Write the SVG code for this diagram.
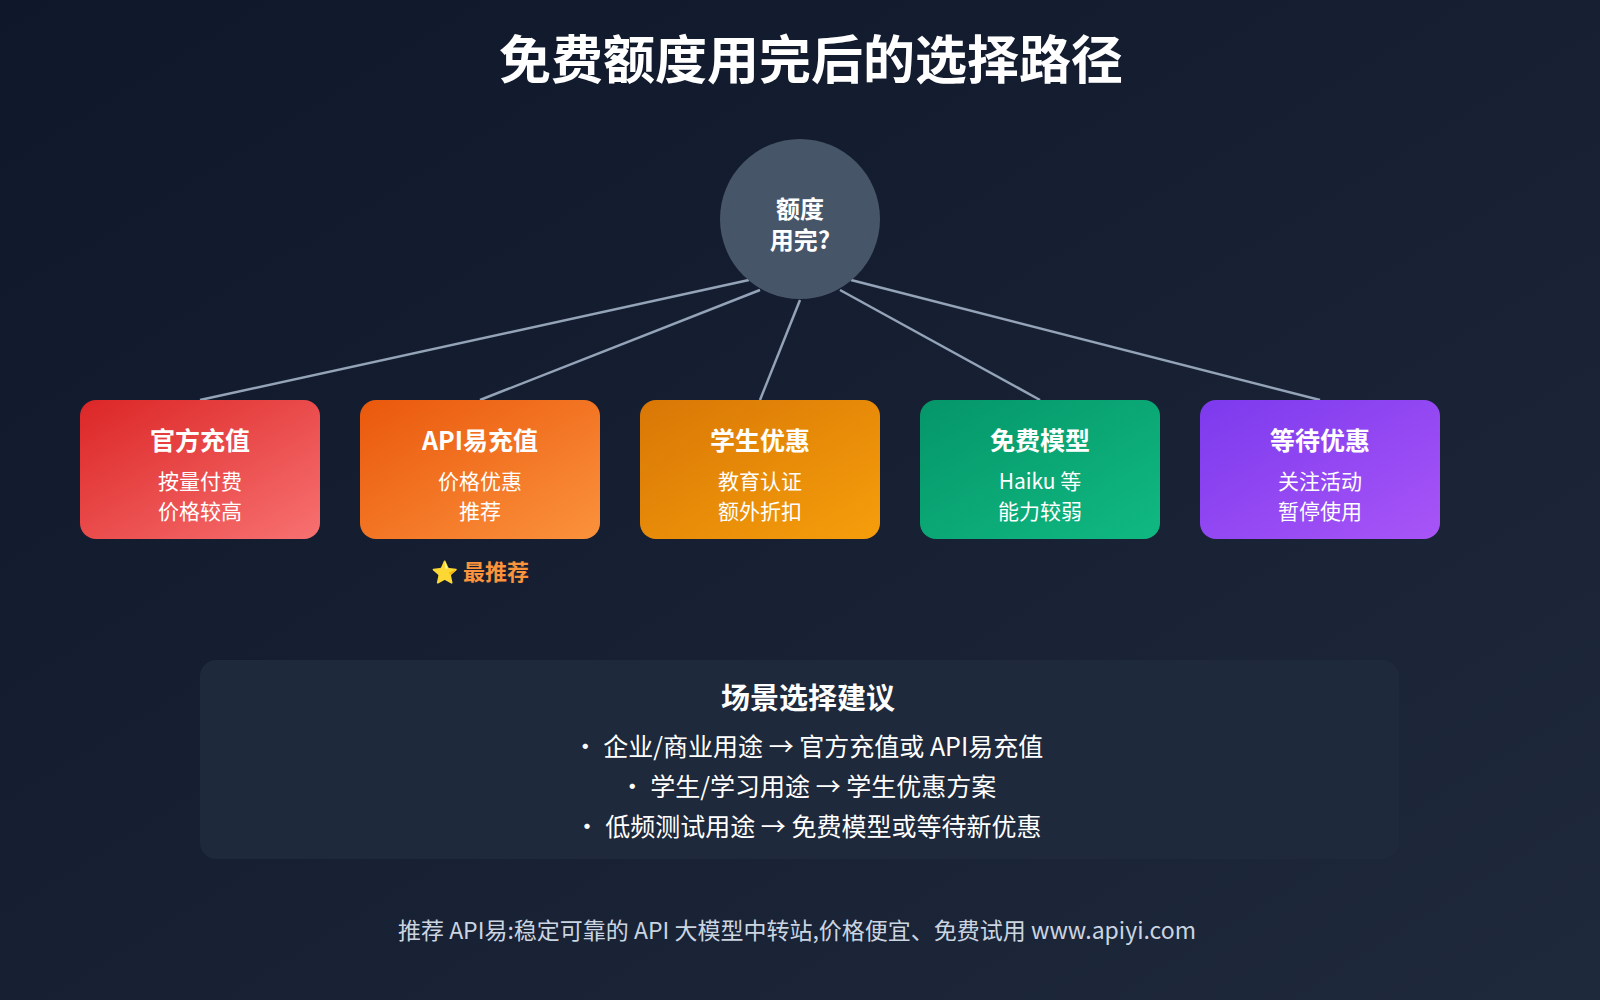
<svg xmlns="http://www.w3.org/2000/svg" width="1600" height="1000" viewBox="0 0 1600 1000">
<defs>
<linearGradient id="bg" x1="0" y1="0" x2="1" y2="1"><stop offset="0" stop-color="#0f172a"/><stop offset="1" stop-color="#1e293b"/></linearGradient>
<linearGradient id="g1" x1="0" y1="0" x2="1" y2="1"><stop offset="0" stop-color="#dc2626"/><stop offset="1" stop-color="#f87171"/></linearGradient>
<linearGradient id="g2" x1="0" y1="0" x2="1" y2="1"><stop offset="0" stop-color="#ea580c"/><stop offset="1" stop-color="#fb923c"/></linearGradient>
<linearGradient id="g3" x1="0" y1="0" x2="1" y2="1"><stop offset="0" stop-color="#d97706"/><stop offset="1" stop-color="#f59e0b"/></linearGradient>
<linearGradient id="g4" x1="0" y1="0" x2="1" y2="1"><stop offset="0" stop-color="#059669"/><stop offset="1" stop-color="#10b981"/></linearGradient>
<linearGradient id="g5" x1="0" y1="0" x2="1" y2="1"><stop offset="0" stop-color="#7c3aed"/><stop offset="1" stop-color="#a855f7"/></linearGradient>
</defs>
<style>
text{font-family:"Noto Sans CJK SC","Liberation Sans",sans-serif;text-anchor:middle;fill:#fff}
.t{font-size:25px;font-weight:700}
.ct{font-size:24px;font-weight:700}
.s{font-size:21px}
.b{font-size:25px}
.c{stroke:#94a3b8;stroke-width:2.5;fill:none}
</style>
<rect width="1600" height="1000" fill="url(#bg)"/>
<text x="811" y="79" style="font-size:52px;font-weight:700">免费额度用完后的选择路径</text>
<g id="connectors">
<line class="c" x1="749" y1="280" x2="200" y2="400"/>
<line class="c" x1="760" y1="290" x2="480" y2="400"/>
<line class="c" x1="800" y1="300" x2="760" y2="400"/>
<line class="c" x1="840" y1="290" x2="1040" y2="400"/>
<line class="c" x1="851" y1="280" x2="1320" y2="400"/>
</g>
<g id="center"><circle cx="800" cy="219" r="80" fill="#475569"/>
<text class="ct" x="800" y="218">额度</text><text class="ct" x="800" y="249">用完?</text></g>
<g id="n1"><rect x="80" y="400" width="240" height="139" rx="16" fill="url(#g1)"/><text class="t" x="200" y="450">官方充值</text><text class="s" x="200" y="489">按量付费</text><text class="s" x="200" y="519">价格较高</text></g>
<g id="n2"><rect x="360" y="400" width="240" height="139" rx="16" fill="url(#g2)"/><text class="t" x="480" y="450">API易充值</text><text class="s" x="480" y="489">价格优惠</text><text class="s" x="480" y="519">推荐</text></g>
<g id="n3"><rect x="640" y="400" width="240" height="139" rx="16" fill="url(#g3)"/><text class="t" x="760" y="450">学生优惠</text><text class="s" x="760" y="489">教育认证</text><text class="s" x="760" y="519">额外折扣</text></g>
<g id="n4"><rect x="920" y="400" width="240" height="139" rx="16" fill="url(#g4)"/><text class="t" x="1040" y="450">免费模型</text><text class="s" x="1040" y="489">Haiku 等</text><text class="s" x="1040" y="519">能力较弱</text></g>
<g id="n5"><rect x="1200" y="400" width="240" height="139" rx="16" fill="url(#g5)"/><text class="t" x="1320" y="450">等待优惠</text><text class="s" x="1320" y="489">关注活动</text><text class="s" x="1320" y="519">暂停使用</text></g>
<text x="480" y="580" style="font-size:22px;font-weight:700;fill:#fb923c">⭐ 最推荐</text>
<g id="panel"><rect x="200" y="660" width="1199" height="199" rx="16" fill="#1e293b"/>
<text x="808" y="709" style="font-size:29px;font-weight:700">场景选择建议</text>
<text class="b" x="808" y="756">• 企业/商业用途 → 官方充值或 API易充值</text>
<text class="b" x="808" y="796">• 学生/学习用途 → 学生优惠方案</text>
<text class="b" x="808" y="836">• 低频测试用途 → 免费模型或等待新优惠</text></g>
<text x="797" y="939" style="font-size:23px;fill:#cbd5e1">推荐 API易:稳定可靠的 API 大模型中转站,价格便宜、免费试用 www.apiyi.com</text>
</svg>
